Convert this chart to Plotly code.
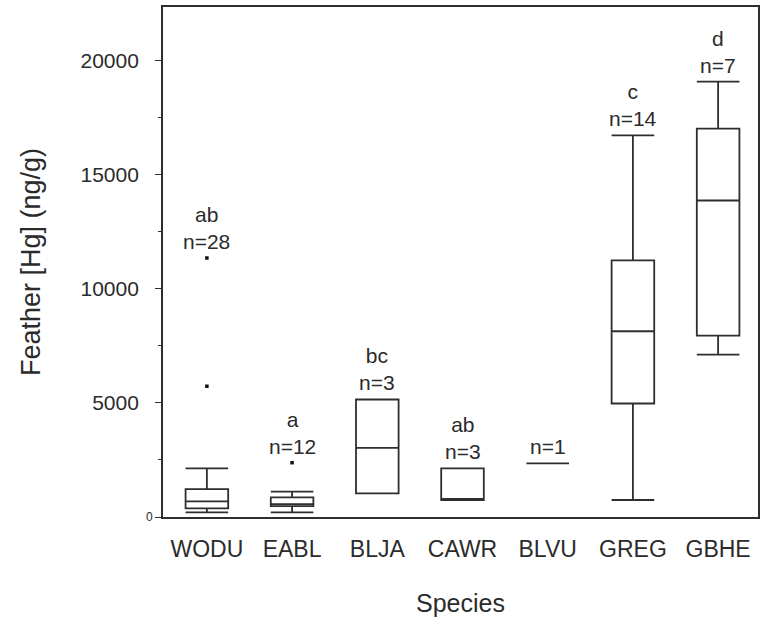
import plotly.graph_objects as go

species = ["WODU", "EABL", "BLJA", "CAWR", "BLVU", "GREG", "GBHE"]
lower = [205, 205, 1037, 745, 2350, 745, 7120]
q1 = [380, 480, 1037, 745, 2350, 4975, 7950]
median = [687, 560, 3030, 745, 2350, 8140, 13870]
q3 = [1225, 862, 5150, 2130, 2350, 11250, 17020]
upper = [2130, 1108, 5150, 2130, 2350, 16720, 19080]

outlier_species = ["WODU", "WODU", "EABL"]
outlier_values = [11350, 5730, 2380]

letters = ["ab", "a", "bc", "ab", "", "c", "d"]
n_counts = [28, 12, 3, 3, 1, 14, 7]

y_ticks = [0, 5000, 10000, 15000, 20000]
y_ticktext = ["", "5000", "10000", "15000", "20000"]
y_minor = [2500, 7500, 12500, 17500, 22500]

FONT = "Liberation Sans, Arial, sans-serif"
INK = "#2b2b2b"
LINE = "#2e2e2e"

fig = go.Figure()
fig.add_trace(go.Box(
    x=species, q1=q1, median=median, q3=q3,
    lowerfence=lower, upperfence=upper,
    width=0.5, whiskerwidth=1,
    line=dict(color=LINE, width=1.8),
    fillcolor="rgba(0,0,0,0)",
    boxpoints=False, showlegend=False, hoverinfo="skip",
))
fig.add_trace(go.Scatter(
    x=outlier_species, y=outlier_values, mode="markers",
    marker=dict(symbol="square", size=3.5, color="#111111"),
    showlegend=False, hoverinfo="skip",
))

# top values for annotation placement
top_vals = []
for i, s in enumerate(species):
    vals = [upper[i]] + [v for o, v in zip(outlier_species, outlier_values) if o == s]
    top_vals.append(max(vals))

for s, let, n, tv in zip(species, letters, n_counts, top_vals):
    txt = (let + "<br>" if let else "") + f"n={n}"
    fig.add_annotation(x=s, y=tv, text=txt, showarrow=False,
                       yanchor="bottom", yshift=3,
                       font=dict(family=FONT, size=21, color=INK))

# small "0" tick label
fig.add_annotation(x=0, xref="paper", y=0, yref="y", text="0", showarrow=False,
                   xanchor="right", xshift=-8,
                   font=dict(family=FONT, size=12, color=INK))

fig.update_layout(
    width=761, height=620,
    margin=dict(l=163, r=1, t=7, b=103),
    paper_bgcolor="white", plot_bgcolor="white",
    font=dict(family=FONT, color=INK),
)
fig.update_xaxes(
    type="category", categoryorder="array", categoryarray=species,
    range=[-0.515, 6.468],
    showline=True, linecolor=LINE, linewidth=1.8, mirror=True,
    ticks="", showgrid=False, zeroline=False,
    ticklabelstandoff=10,
    tickfont=dict(family=FONT, size=23, color=INK),
    title=dict(text="Species", font=dict(family=FONT, size=25, color=INK), standoff=34),
)
fig.update_yaxes(
    range=[0, 22350],
    tickvals=y_ticks, ticktext=y_ticktext,
    ticks="outside", ticklen=6, tickcolor=LINE, tickwidth=1.4,
    ticklabelstandoff=12,
    minor=dict(tickvals=y_minor, ticks="outside", ticklen=3, tickcolor=LINE, tickwidth=1.2),
    showline=True, linecolor=LINE, linewidth=1.8, mirror=True,
    showgrid=False, zeroline=False,
    tickfont=dict(family=FONT, size=21, color=INK),
    title=dict(text="Feather [Hg] (ng/g)", font=dict(family=FONT, size=27, color=INK), standoff=32),
)

fig.write_html("out.html")
